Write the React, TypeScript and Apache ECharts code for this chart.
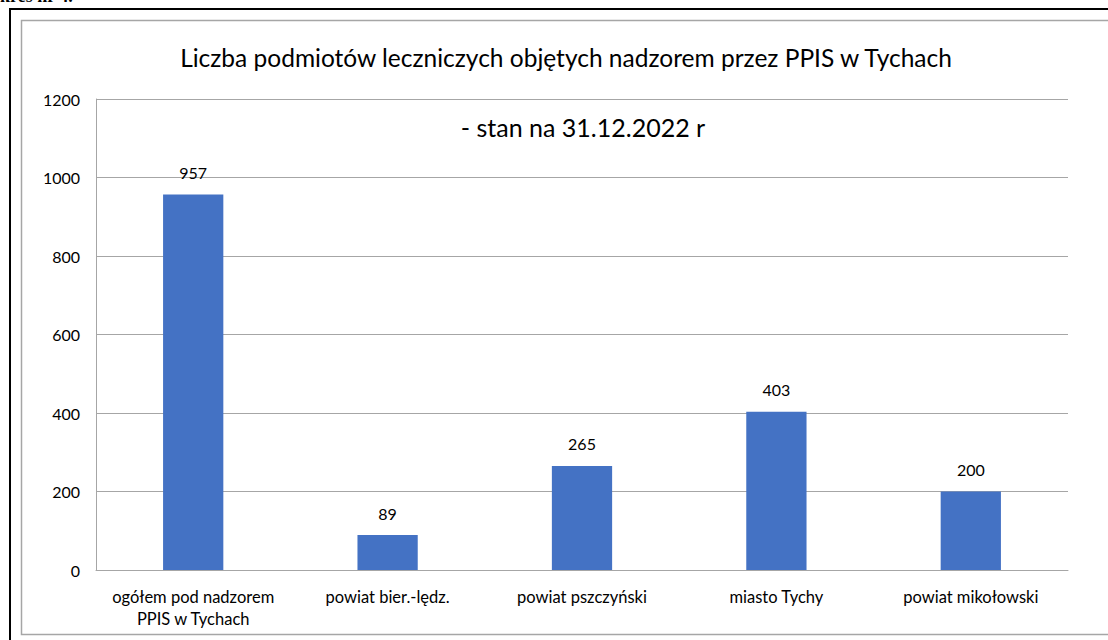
import React, { useEffect, useRef } from "react";
import * as echarts from "echarts";

const categories = ["ogółem pod nadzorem\nPPIS w Tychach", "powiat bier.-lędz.", "powiat pszczyński", "miasto Tychy", "powiat mikołowski"];
const values = [957, 89, 265, 403, 200];
const titleText = "Liczba podmiotów leczniczych objętych nadzorem przez PPIS w Tychach";
const subtitleText = "- stan na 31.12.2022 r";
const yTicks = [0, 200, 400, 600, 800, 1000, 1200];

const FONT = "Lato, 'Open Sans', sans-serif";

export default function App() {
  const ref = useRef<HTMLDivElement>(null);
  useEffect(() => {
    if (!ref.current) return;
    const chart = echarts.init(ref.current, null, { renderer: "svg" });
    chart.setOption({
      animation: false,
      backgroundColor: "#ffffff",
      textStyle: { fontFamily: FONT },
      graphic: [
        { type: "text", left: -22, top: -13, style: { text: "wykres nr 4.", font: "bold 18px 'Liberation Serif', serif", fill: "#000" } },
        { type: "polyline", shape: { points: [[10, 640], [10, 9], [1108, 9]] }, style: { fill: "none", stroke: "#000", lineWidth: 2 } },
        { type: "polyline", shape: { points: [[1108, 20.5], [21.5, 20.5], [21.5, 634.5], [1108, 634.5]] }, style: { fill: "none", stroke: "#a6a6a6", lineWidth: 1.5 } },
        { type: "text", x: 566, y: 57, style: { text: titleText, font: `24.5px ${FONT}`, fill: "#000", align: "center", verticalAlign: "middle" } },
        { type: "text", x: 583, y: 127, style: { text: subtitleText, font: `25px ${FONT}`, fill: "#000", align: "center", verticalAlign: "middle" } },
      ],
      grid: { left: 96, right: 40, top: 99, bottom: 70 },
      xAxis: {
        type: "category",
        data: categories,
        axisLine: { show: true, lineStyle: { color: "#a6a6a6", width: 1 } },
        axisTick: { show: false },
        axisLabel: { color: "#000", fontSize: 16.5, fontFamily: FONT, margin: 16, lineHeight: 22, interval: 0 },
      },
      yAxis: {
        type: "value",
        min: 0,
        max: 1200,
        interval: 200,
        axisLine: { show: true, lineStyle: { color: "#a6a6a6", width: 1 } },
        axisTick: { show: false },
        splitLine: { show: true, lineStyle: { color: "#a6a6a6", width: 1 } },
        axisLabel: { color: "#000", fontSize: 16, fontFamily: FONT, margin: 16, formatter: (v: number) => String(v), customValues: yTicks },
      },
      series: [
        {
          type: "bar",
          data: values,
          barWidth: "31%",
          itemStyle: { color: "#4472C4" },
          label: { show: true, position: "top", distance: 14, color: "#000", fontSize: 16, fontFamily: FONT },
        },
      ],
    });
    return () => chart.dispose();
  }, []);
  return <div ref={ref} style={{ position: "fixed", left: 0, top: 0, width: 1108, height: 640 }} />;
}
